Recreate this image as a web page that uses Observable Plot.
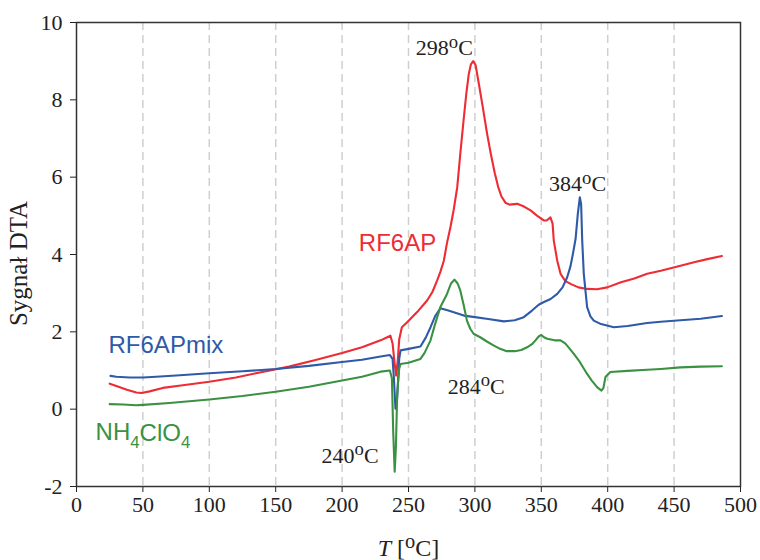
<!DOCTYPE html>
<html><head><meta charset="utf-8">
<script src="https://cdn.jsdelivr.net/npm/d3@7"></script>
<script src="https://cdn.jsdelivr.net/npm/@observablehq/plot@0.6"></script>
<style>body{margin:0;background:#fff}</style>
</head><body><div id="chart"></div>
<script>
const xTicks = [0, 50, 100, 150, 200, 250, 300, 350, 400, 450, 500];
const yTicks = [-2, 0, 2, 4, 6, 8, 10];
const gridTemps = [50, 100, 150, 200, 250, 300, 350, 400, 450];

// RF6AP (red)
const rfTemp = [25,30,38,45,49,55,65,80,100,120,138,160,180,200,215,229,234,236.4,238,239.5,240.7,242,243,245,249,256.5,264,268,271.6,274,276.6,279,281.6,284,286.7,289,291.7,293.5,295.4,297,298.7,300.5,303,306,309.2,312,315,317.5,320,323,326,331.8,337,341.9,347,351.9,354,356.9,358.5,359.4,362,364.5,368,372,378,384.5,392,399.6,410,420,429.7,440,454.8,465,475,486];
const rfSignal = [0.66,0.60,0.50,0.43,0.42,0.46,0.55,0.62,0.71,0.82,0.95,1.10,1.27,1.45,1.60,1.78,1.86,1.90,1.70,1.20,0.87,1.30,1.80,2.12,2.25,2.51,2.81,3.03,3.33,3.55,3.84,4.30,4.71,5.15,5.74,6.60,7.55,8.15,8.67,8.92,9.00,8.90,8.41,7.80,7.12,6.60,6.10,5.75,5.50,5.34,5.29,5.31,5.24,5.14,5.00,4.88,4.88,4.96,4.80,4.36,3.84,3.50,3.32,3.24,3.15,3.11,3.10,3.15,3.28,3.38,3.50,3.58,3.71,3.80,3.88,3.96];

// RF6APmix (blue)
const mixTemp = [25.6,30,40,50,60,75,100,125,150,175,200,215,229,236,238,239,240.2,241.5,243,244,250,259,263,266.6,270,274,280,291.7,300,310,321.8,330,336.8,343,348,352,357,362,366,369.5,372,374,375.8,377.5,379,380,380.8,382,384.5,387,389.5,395,404.6,415,429.7,440,454.8,470,486];
const mixSignal = [0.86,0.84,0.82,0.82,0.84,0.87,0.93,0.98,1.04,1.12,1.22,1.28,1.36,1.40,1.30,0.80,0.01,0.30,1.30,1.52,1.56,1.62,1.85,2.12,2.40,2.61,2.55,2.42,2.38,2.33,2.27,2.30,2.38,2.55,2.70,2.77,2.85,2.98,3.15,3.41,3.70,4.05,4.40,5.05,5.48,5.30,4.36,3.50,2.64,2.40,2.29,2.20,2.12,2.15,2.23,2.26,2.30,2.34,2.41];

// NH4ClO4 (green)
const apTemp = [25,35,45,50,70,100,125,150,175,200,215,229,236,237.5,238.5,239.6,240.5,241.5,243,244,250,259,262,266.6,270,274,279,282,284.6,287,289,291.5,294,296.5,299,304,309,314,319,324,330,335,339.3,343,345.6,348,350,352,354.4,360,364.5,368,371,374.5,379,384.5,388,392,395.3,396.8,398.3,402,415,429.7,440,454.8,470,486];
const apSignal = [0.13,0.12,0.10,0.11,0.16,0.25,0.34,0.45,0.58,0.74,0.84,0.97,1.00,0.80,-0.60,-1.62,-1.00,0.40,1.05,1.17,1.20,1.30,1.45,1.78,2.20,2.64,2.98,3.25,3.35,3.25,3.07,2.70,2.29,2.08,1.95,1.86,1.75,1.65,1.56,1.50,1.50,1.53,1.60,1.68,1.78,1.88,1.92,1.86,1.82,1.78,1.78,1.70,1.58,1.43,1.22,0.91,0.74,0.57,0.48,0.55,0.83,0.96,0.99,1.02,1.04,1.08,1.10,1.11];

const seriesNames = ["RF6AP", "RF6APmix", "NH₄ClO₄"];
const seriesColors = ["#ee2c34", "#2f5aa8", "#3a9142"];
const seriesLabelTemp = [241.7, 67.3, 50];
const seriesLabelSignal = [4.08, 1.465, -0.81];

const peakLabels = ["298°C", "384°C", "284°C", "240°C"];
const peakLabelTemp = [277, 377.3, 301, 206];
const peakLabelSignal = [9.16, 5.63, 0.405, -1.38];

const xTitle = "T [°C]";
const yTitle = "Sygnał DTA";

const toRows = (ts, vs) => ts.map((t, i) => ({t, v: vs[i]}));
const rf = toRows(rfTemp, rfSignal);
const mix = toRows(mixTemp, mixSignal);
const ap = toRows(apTemp, apSignal);
const seriesLabelRows = seriesNames.map((n, i) => ({n, t: seriesLabelTemp[i], v: seriesLabelSignal[i], c: seriesColors[i]}));
const peakRows = peakLabels.map((n, i) => ({n, t: peakLabelTemp[i], v: peakLabelSignal[i]}));

const serif = "'Liberation Serif', 'Times New Roman', serif";
const sans = "'Liberation Sans', Arial, sans-serif";

const svg = Plot.plot({
  width: 760, height: 560,
  marginLeft: 76, marginRight: 20, marginTop: 22, marginBottom: 74,
  style: {fontFamily: serif, fontSize: "22px", color: "#222", background: "#fff"},
  x: {domain: [0, 500], ticks: xTicks, tickSize: 6, tickPadding: 4, label: null},
  y: {domain: [-2, 10], ticks: yTicks, tickSize: 6, tickPadding: 8, label: null, tickFormat: d => String(d)},
  marks: [
    Plot.ruleX(gridTemps, {stroke: "#cfcfcf", strokeWidth: 1.5, strokeDasharray: "8,5"}),
    Plot.line(rf, {x: "t", y: "v", stroke: seriesColors[0], strokeWidth: 2.1}),
    Plot.line(mix, {x: "t", y: "v", stroke: seriesColors[1], strokeWidth: 2.1}),
    Plot.line(ap, {x: "t", y: "v", stroke: seriesColors[2], strokeWidth: 2.1}),
    Plot.frame({stroke: "#333", strokeWidth: 1.5}),
    Plot.text(seriesLabelRows, {x: "t", y: "v", text: "n", fill: "c", fontSize: 24, fontFamily: sans, textAnchor: "middle", lineAnchor: "bottom"}),
    Plot.text(peakRows, {x: "t", y: "v", text: "n", fill: "#222", fontSize: 22, textAnchor: "middle", lineAnchor: "bottom"}),
    Plot.text([xTitle], {text: d => d, frameAnchor: "bottom", dy: 69, textAnchor: "middle", lineAnchor: "bottom", fontSize: 24, fill: "#222"}),
    Plot.text([yTitle], {text: d => d, frameAnchor: "left", rotate: -90, dx: -58, dy: 9, textAnchor: "middle", lineAnchor: "middle", fontSize: 25, fill: "#222"})
  ]
});

// rich text: superscript "o" for degree, subscript digits, italic T
const NS = "http://www.w3.org/2000/svg";
function richify(el) {
  const s = el.textContent;
  if (!/[°₄]/.test(s)) return;
  const segs = [];
  const chars = Array.from(s);
  chars.forEach((ch, i) => {
    let kind = "n", txt = ch;
    if (ch === "°") { kind = "sup"; txt = "o"; }
    else if (ch === "₄") { kind = "sub"; txt = "4"; }
    else if (i === 0 && s.startsWith("T [")) { kind = "it"; }
    const last = segs[segs.length - 1];
    if (last && last.kind === kind && kind === "n") last.txt += txt;
    else segs.push({kind, txt});
  });
  el.textContent = "";
  let back = 0;
  const supR = 0.33, supF = 0.85, subD = 0.3, subF = 0.7;
  for (const seg of segs) {
    const ts = document.createElementNS(NS, "tspan");
    ts.textContent = seg.txt;
    if (seg.kind === "sup") {
      ts.setAttribute("font-size", (supF * 100) + "%");
      ts.setAttribute("dy", (-(supR / supF) + back / supF).toFixed(3) + "em");
      back = supR;
    } else if (seg.kind === "sub") {
      ts.setAttribute("font-size", (subF * 100) + "%");
      ts.setAttribute("dy", ((subD / subF) - back / subF).toFixed(3) + "em");
      back = -subD;
    } else {
      if (seg.kind === "it") ts.setAttribute("font-style", "italic");
      if (back !== 0) ts.setAttribute("dy", back.toFixed(3) + "em");
      back = 0;
    }
    el.appendChild(ts);
  }
}
svg.querySelectorAll("text").forEach(richify);

document.getElementById("chart").appendChild(svg);
</script>
</body></html>
